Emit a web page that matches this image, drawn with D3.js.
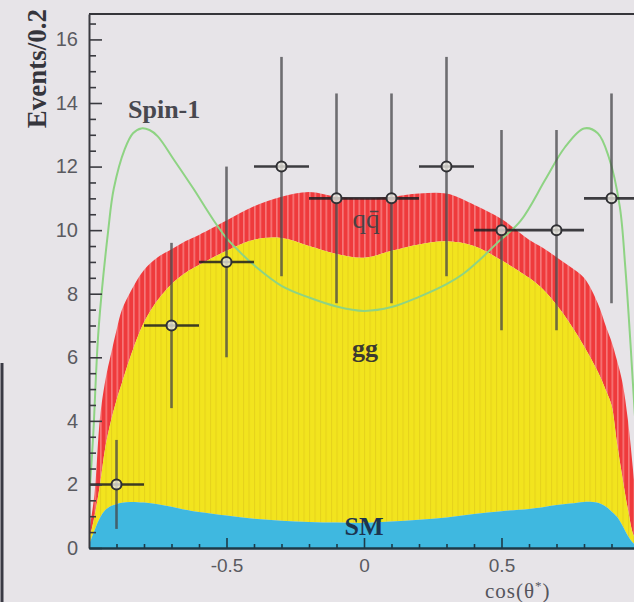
<!DOCTYPE html>
<html><head><meta charset="utf-8">
<script src="https://cdn.jsdelivr.net/npm/d3@7"></script>
<style>html,body{margin:0;padding:0;background:#e7e4e8;} svg{display:block;}</style>
</head><body><svg id="c" width="634" height="602"></svg>
<script>
// ---- data ----
const gridX = [-1.0,-0.98,-0.96,-0.94,-0.92,-0.9,-0.88,-0.85,-0.8,-0.75,-0.7,-0.65,-0.6,-0.5,-0.4,-0.3,-0.2,-0.1,0,0.1,0.2,0.3,0.4,0.5,0.6,0.65,0.7,0.75,0.8,0.85,0.88,0.9,0.92,0.94,0.96,0.98,1.0];
// stack tops: SM, SM+gg, SM+gg+qq
const smTop = [0.1,0.55,0.95,1.2,1.32,1.38,1.42,1.45,1.43,1.38,1.3,1.2,1.13,1.02,0.92,0.86,0.82,0.8,0.79,0.83,0.89,0.96,1.07,1.16,1.23,1.28,1.35,1.4,1.45,1.42,1.3,1.15,0.98,0.7,0.38,0.15,0.05];
const ggTop = [0.2,1.0,2.0,3.2,4.0,4.65,5.2,6.0,7.1,7.8,8.3,8.65,8.9,9.35,9.7,9.75,9.5,9.25,9.13,9.35,9.55,9.65,9.5,9.05,8.5,8.15,7.65,7.05,6.35,5.55,4.95,4.5,3.3,2.2,1.2,0.4,0.1];
const qqTop = [0.5,1.7,4.1,5.3,6.1,6.85,7.5,8.05,8.75,9.15,9.4,9.65,9.85,10.3,10.75,11.05,11.2,11.05,11.0,11.05,11.15,11.15,10.8,10.35,9.7,9.45,9.15,8.85,8.5,7.7,6.96,6.5,5.9,5.2,4.0,2.3,0.5];

const spinX = [-1.0,-0.985,-0.965,-0.93,-0.91,-0.87,-0.84,-0.81,-0.78,-0.75,-0.69,-0.62,-0.55,-0.5,-0.45,-0.4,-0.3,-0.2,-0.1,0,0.1,0.2,0.3,0.36,0.42,0.48,0.57,0.66,0.73,0.8,0.85,0.89,0.93,0.95,0.97,0.99,1.0];
const spinY = [1.5,3.5,6.9,10.0,11.3,12.55,13.05,13.2,13.15,12.95,12.2,11.3,10.35,9.75,9.3,8.9,8.25,7.88,7.6,7.46,7.58,7.9,8.3,8.62,9.06,9.56,10.3,11.6,12.6,13.2,13.05,12.3,10.75,8.85,6.3,3.5,2.5];

const dataX = [-0.9,-0.7,-0.5,-0.3,-0.1,0.1,0.3,0.5,0.7,0.9];
const dataY = [2,7,9,12,11,11,12,10,10,11];
const dataErr = [1.4,2.6,3.0,3.45,3.3,3.3,3.45,3.15,3.15,3.3];
const binHalfWidth = 0.1;

const yMajorTicks = [0,2,4,6,8,10,12,14,16];
const xMajorTicks = [-0.5,0,0.5];
const xTickLabels = ["-0.5","0","0.5"];

// ---- drawing ----
const svg = d3.select('#c');
const x = d3.scaleLinear().domain([-1,1]).range([89,639]);
const y = d3.scaleLinear().domain([0,16.8]).range([548,14]);

svg.append('rect').attr('width',634).attr('height',602).attr('fill','#e7e4e8');

const defs = svg.append('defs');
defs.append('clipPath').attr('id','plotclip').append('rect')
  .attr('x',x(-1)).attr('y',y(16.8)).attr('width',x(1)-x(-1)).attr('height',y(0)-y(16.8));
const stripeW = x(0.02)-x(0);
function stripePattern(id, base, stripe, sw){
  const p = defs.append('pattern').attr('id',id).attr('patternUnits','userSpaceOnUse')
    .attr('x',x(-1)).attr('y',0).attr('width',stripeW).attr('height',10);
  p.append('rect').attr('width',stripeW).attr('height',10).attr('fill',base);
  p.append('rect').attr('width',sw).attr('height',10).attr('fill',stripe);
}
stripePattern('redp','#ef3a3c','#f6787a',1.6);
stripePattern('yelp','#f2e41e','#e6d21c',1.0);

// stray frame of neighbouring plot at left edge
svg.append('line').attr('x1',2).attr('x2',2).attr('y1',363).attr('y2',602).attr('stroke','#3a3a44').attr('stroke-width',3);

const plot = svg.append('g').attr('clip-path','url(#plotclip)');
const idx = d3.range(gridX.length);
const smooth = d3.curveCatmullRom.alpha(0.5);
const areaOf = (lo, hi) => d3.area().curve(smooth)
  .x(i => x(gridX[i])).y0(i => lo ? y(lo[i]) : y(0)).y1(i => y(hi[i]));

plot.append('path').datum(idx).attr('d', areaOf(ggTop, qqTop)).attr('fill','url(#redp)');
plot.append('path').datum(idx).attr('d', areaOf(smTop, ggTop)).attr('fill','url(#yelp)');
plot.append('path').datum(idx).attr('d', areaOf(null, smTop)).attr('fill','#3fb8e0');

// spin-1 curve
plot.append('path').datum(d3.range(spinX.length))
  .attr('d', d3.line().curve(smooth).x(i => x(spinX[i])).y(i => y(spinY[i])))
  .attr('fill','none').attr('stroke','#8ed383').attr('stroke-width',2);

// data points
const pts = plot.append('g');
dataX.forEach((dx,i) => {
  pts.append('line').attr('x1',x(dx)).attr('x2',x(dx))
    .attr('y1',y(dataY[i]-dataErr[i])).attr('y2',y(dataY[i]+dataErr[i]))
    .attr('stroke','rgba(70,70,72,0.75)').attr('stroke-width',2.6);
  pts.append('line').attr('x1',x(dx-binHalfWidth)).attr('x2',x(dx+binHalfWidth))
    .attr('y1',y(dataY[i])).attr('y2',y(dataY[i]))
    .attr('stroke','rgba(30,30,34,0.85)').attr('stroke-width',2.6);
  pts.append('circle').attr('cx',x(dx)).attr('cy',y(dataY[i])).attr('r',5)
    .attr('fill','rgba(232,230,222,0.8)').attr('stroke','#303034').attr('stroke-width',2);
});

// frame top
svg.append('line').attr('x1',x(-1)).attr('x2',634).attr('y1',y(16.8)).attr('y2',y(16.8))
  .attr('stroke','#35353a').attr('stroke-width',2);

// y axis
const yMinor = d3.range(0,16.81,0.5).filter(v => yMajorTicks.indexOf(v) < 0);
const yAxG = svg.append('g').attr('transform',`translate(${x(-1)},0)`);
yAxG.call(d3.axisLeft(y).tickValues(yMajorTicks).tickSize(-13).tickSizeOuter(0).tickPadding(11).tickFormat(d3.format('d')));
yAxG.append('g').call(d3.axisLeft(y).tickValues(yMinor).tickSize(-7).tickFormat(''))
  .select('.domain').remove();
yAxG.selectAll('.domain').attr('stroke','#3a3a40').attr('stroke-width',2);
yAxG.selectAll('.tick line').attr('stroke','#3a3a40').attr('stroke-width',1.6);
yAxG.selectAll('.tick text').attr('font-family','Liberation Sans, Arial, sans-serif')
  .attr('font-size',20).attr('fill','#5a5a60');

// x axis
const xMinor = d3.range(-0.9,0.96,0.1).map(v => Math.round(v*10)/10).filter(v => xMajorTicks.indexOf(v) < 0);
const xAxG = svg.append('g').attr('transform',`translate(0,${y(0)})`);
xAxG.call(d3.axisBottom(x).tickValues(xMajorTicks).tickSize(-10).tickSizeOuter(0).tickPadding(11)
  .tickFormat((d,i) => xTickLabels[i]));
xAxG.append('g').call(d3.axisBottom(x).tickValues(xMinor).tickSize(-4).tickFormat(''))
  .select('.domain').remove();
xAxG.selectAll('.domain').attr('stroke','#1d3a48').attr('stroke-width',2.5);
xAxG.selectAll('.tick line').attr('stroke','#1d3a48').attr('stroke-width',1.6);
xAxG.selectAll('.tick text').attr('font-family','Liberation Sans, Arial, sans-serif')
  .attr('font-size',19).attr('fill','#5a5a60');

// axis titles
const serif = 'Liberation Serif, Times New Roman, serif';
const xt = svg.append('text').attr('x',485).attr('y',598)
  .attr('font-family',serif).attr('font-size',21).attr('letter-spacing',1).attr('fill','#55555c');
xt.append('tspan').text('cos(θ');
xt.append('tspan').attr('font-size',13).attr('dy',-8).text('*');
xt.append('tspan').attr('dy',8).text(')');

svg.append('text').attr('transform','translate(46,9) rotate(-90)').attr('text-anchor','end')
  .attr('font-family',serif).attr('font-weight','bold')
  .attr('font-size',27).attr('fill','#35353c').text('Events/0.2');

// component labels
svg.append('text').attr('x',128).attr('y',118).attr('font-family',serif).attr('font-weight','bold')
  .attr('font-size',26).attr('fill','#48484f').text('Spin-1');
svg.append('text').attr('x',366).attr('y',228).attr('text-anchor','middle').attr('font-family',serif)
  .attr('font-size',27).attr('fill','#4a4246').text('qq\u0304');
svg.append('text').attr('x',365).attr('y',357).attr('text-anchor','middle').attr('font-family',serif)
  .attr('font-weight','bold').attr('font-size',26).attr('fill','#3c3a30').text('gg');
svg.append('text').attr('x',364).attr('y',535).attr('text-anchor','middle').attr('font-family',serif)
  .attr('font-weight','bold').attr('font-size',26).attr('fill','#1c3550').text('SM');
</script></body></html>
